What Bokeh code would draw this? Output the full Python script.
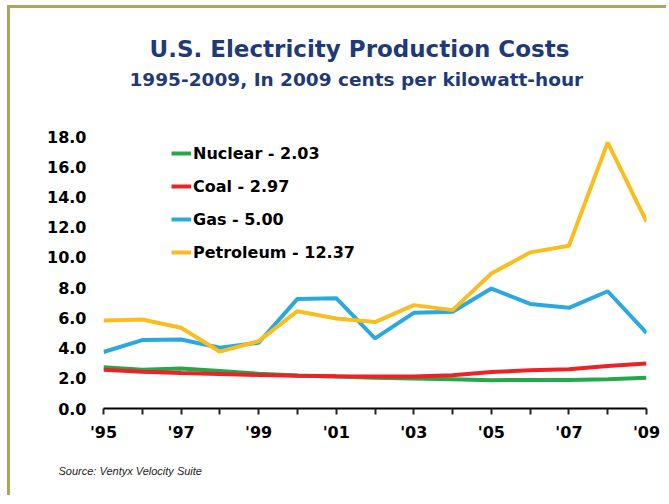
from bokeh.plotting import figure
from bokeh.models import (Range1d, FixedTicker, Legend, LegendItem, Title,
                          PrintfTickFormatter)
from bokeh.embed import file_html
from bokeh.resources import INLINE

# ---------------- data ----------------
years = list(range(1995, 2010))
year_labels = ["'95", "", "'97", "", "'99", "", "'01", "", "'03", "", "'05", "", "'07", "", "'09"]
series_names = ["Nuclear", "Coal", "Gas", "Petroleum"]
nuclear = [2.73, 2.57, 2.64, 2.48, 2.30, 2.18, 2.11, 2.04, 1.98, 1.94, 1.87, 1.89, 1.89, 1.94, 2.03]
coal = [2.57, 2.44, 2.35, 2.29, 2.22, 2.16, 2.13, 2.11, 2.11, 2.20, 2.42, 2.53, 2.60, 2.81, 2.97]
gas = [3.74, 4.53, 4.57, 4.02, 4.35, 7.25, 7.30, 4.64, 6.33, 6.40, 7.94, 6.92, 6.66, 7.76, 5.00]
petroleum = [5.83, 5.89, 5.34, 3.76, 4.46, 6.44, 5.96, 5.72, 6.84, 6.51, 8.93, 10.33, 10.77, 17.60, 12.37]
y_ticks = [0, 2, 4, 6, 8, 10, 12, 14, 16, 18]

title_text = "U.S. Electricity Production Costs"
subtitle_text = "1995-2009, In 2009 cents per kilowatt-hour"
source_text = "Source: Ventyx Velocity Suite"

colors = ["#25A84A", "#EC2227", "#2AA8E0", "#F8BD1F"]
FONT = "DejaVu Sans"

# ---------------- layout ----------------
W, H = 659, 490
FL, FR, FT, FB = 93, 636, 128, 400   # frame edges in canvas px

p = figure(width=W, height=H, output_backend="svg", toolbar_location=None,
           x_range=Range1d(1995, 2009), y_range=Range1d(0, 18),
           min_border_left=FL, min_border_right=W - FR,
           min_border_top=FT, min_border_bottom=H - FB)
p.styles = {"border-left": "3px solid #ADA55C", "border-top": "3px solid #ADA55C",
            "position": "relative", "left": "7px", "top": "5px"}
p.outline_line_color = None
p.xgrid.visible = False
p.ygrid.visible = False
p.background_fill_color = "white"
p.border_fill_color = "white"

renderers = []
for name, vals, c in zip(series_names, [nuclear, coal, gas, petroleum], colors):
    r = p.line(years, vals, line_color=c, line_width=4)
    renderers.append((f"{name} - {vals[-1]:.2f}", r))

# axes
xa = p.xaxis[0]
xa.ticker = FixedTicker(ticks=years)
xa.major_label_overrides = {y: l for y, l in zip(years, year_labels)}
xa.axis_line_color = "black"
xa.axis_line_width = 2
xa.major_tick_line_color = "#222222"
xa.major_tick_line_width = 2
xa.major_tick_out = 6
xa.major_tick_in = 0
xa.minor_tick_line_color = None
xa.major_label_standoff = 8
xa.major_label_text_font = FONT
xa.major_label_text_font_style = "bold"
xa.major_label_text_font_size = "16px"
xa.major_label_text_color = "black"

ya = p.yaxis[0]
ya.ticker = FixedTicker(ticks=y_ticks)
ya.formatter = PrintfTickFormatter(format="%.1f")
ya.axis_line_color = None
ya.major_tick_line_color = None
ya.minor_tick_line_color = None
ya.major_tick_out = 0
ya.major_tick_in = 0
ya.major_label_standoff = 17
ya.major_label_text_font = FONT
ya.major_label_text_font_style = "bold"
ya.major_label_text_font_size = "16px"
ya.major_label_text_color = "black"

# legend
legend = Legend(items=[LegendItem(label=l, renderers=[r]) for l, r in renderers],
                location=(68, 146), orientation="vertical",
                glyph_width=20, glyph_height=20, label_height=20,
                label_standoff=2, spacing=13, padding=0, margin=0,
                border_line_color=None, background_fill_alpha=0,
                label_text_font=FONT, label_text_font_style="bold",
                label_text_font_size="16px", label_text_color="black")
p.add_layout(legend, "center")

# titles: first added sits next to the frame, p.title is outermost
spacer = Title(text=" ", standoff=34, text_font=FONT, text_font_size="10px")
p.add_layout(spacer, "above")

subtitle = Title(text=subtitle_text, align="left", offset=26, standoff=0,
                 text_font=FONT, text_font_style="bold", text_font_size="18.5px",
                 text_color="#1F3A78")
p.add_layout(subtitle, "above")

p.title.text = title_text
p.title.align = "left"
p.title.offset = 46
p.title.standoff = 10
p.title.text_font = FONT
p.title.text_font_style = "bold"
p.title.text_font_size = "23px"
p.title.text_color = "#1F3A78"

source = Title(text=source_text, align="left", offset=-45, standoff=36,
               text_font="Liberation Sans", text_font_style="italic",
               text_font_size="11px", text_color="#222222")
p.add_layout(source, "below")

open("out.html", "w").write(file_html(p, INLINE))
